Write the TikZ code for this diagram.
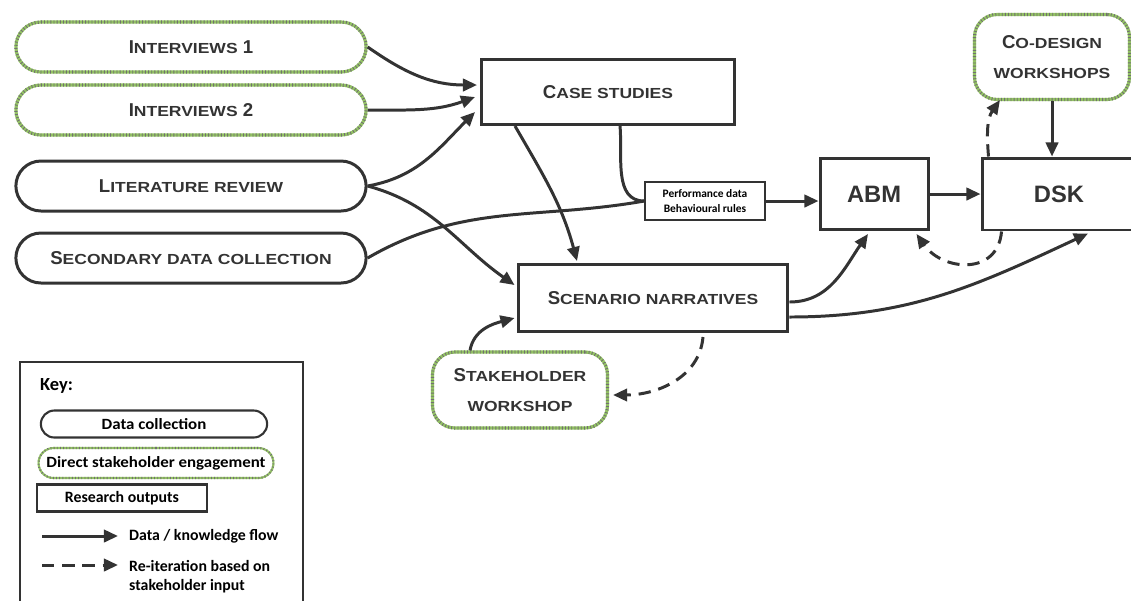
\documentclass[tikz,border=0pt]{standalone}
\usepackage{fontspec}
\setmainfont{Liberation Sans}
\newfontfamily\smcfont[FakeStretch=1.2]{Liberation Sans}
\newfontfamily\keyfont{Carlito}
\newfontfamily\keywidefont[FakeStretch=1.08]{Carlito}
\usetikzlibrary{arrows.meta,shapes.misc,calc}

\definecolor{inkgray}{HTML}{333333}
\definecolor{engagegreen}{HTML}{93C363}

% small capitals by hand
\newcommand\smc[1]{{\smcfont\bfseries\fontsize{8.3}{10}\selectfont #1}}

\tikzset{datacol/.style = {rounded rectangle, draw = inkgray, line width = 1.7pt,
                           minimum width = 7.24cm, minimum height = 1cm,
                           text = inkgray, font = \bfseries\fontsize{10.6}{13}\selectfont},
         engage/.style  = {draw = engagegreen, line width = 1.8pt,
                           postaction = {draw = inkgray!70, dash pattern = on 0.5pt off 1.3pt}},
         resbox/.style  = {rectangle, draw = inkgray, line width = 1.7pt, align = center,
                           text = inkgray, font = \bfseries\fontsize{10.6}{13}\selectfont},
         workshop/.style = {rectangle, rounded corners = 0.45cm, engage, align = center,
                           text = inkgray, font = \bfseries\fontsize{10.6}{17}\selectfont},
         flow/.style    = {draw = inkgray, line width = 1.7pt, -{Triangle[length = 8pt, width = 7pt]}},
         reiter/.style  = {flow, dash pattern = on 7pt off 4.5pt},
         keytext/.style = {text = black, font = \keyfont\bfseries\fontsize{9}{11}\selectfont},
         keyoval/.style = {text = black, font = \keywidefont\bfseries\fontsize{8.9}{11}\selectfont}
        }

\begin{document}
\begin{tikzpicture}[x = 0.02cm, y = -0.02cm]
  \useasboundingbox (0,0) rectangle (1131,600);
  \clip (0,0) rectangle (1131,600);

  % data collection and engagement
  \node[datacol, engage] (int1) at (191,47)  {I\smc{NTERVIEWS} 1};
  \node[datacol, engage] (int2) at (191,110) {I\smc{NTERVIEWS} 2};
  \node[datacol] (litrev)  at (191,186) {L\smc{ITERATURE REVIEW}};
  \node[datacol] (secdata) at (191,258) {S\smc{ECONDARY DATA COLLECTION}};

  % research outputs
  \node[resbox, minimum width = 5.06cm, minimum height = 1.3cm]  (case) at (608,92)  {C\smc{ASE STUDIES}};
  \node[resbox, minimum width = 5.4cm, minimum height = 1.34cm]  (scen) at (653,298) {S\smc{CENARIO NARRATIVES}};
  \node[resbox, minimum width = 2.16cm, minimum height = 1.42cm, font = \bfseries\fontsize{13.5}{16}\selectfont] (abm) at (874,194) {ABM};
  \node[resbox, minimum width = 3.08cm, minimum height = 1.44cm, font = \bfseries\fontsize{13.5}{16}\selectfont] (dsk) at (1059,194) {DSK};
  \node[resbox, line width = 0.8pt, minimum width = 2.4cm, minimum height = 0.76cm, inner sep = 1pt,
        text = black, font = \keyfont\bfseries\fontsize{6.5}{8}\selectfont] (perf) at (705,201)
        {Performance data\\Behavioural rules};

  % workshops
  \node[workshop, minimum width = 3.1cm, minimum height = 1.7cm] (codes) at (1052,57)
        {C\smc{O-DESIGN}\\\smc{WORKSHOPS}};
  \node[workshop, minimum width = 3.5cm, minimum height = 1.52cm] (stake) at (520,390)
        {S\smc{TAKEHOLDER}\\\smc{WORKSHOP}};

  % connectors
  \draw[flow] (int1.east) to[out = -35, in = 180] ($(case.west)+(-3,-7)$);
  \draw[flow] (int2.east) to[out = 0, in = 200] ($(case.west)+(-5,5)$);
  \draw[flow] (litrev.east) to[out = 10, in = 225] ($(case.west)+(-5,20)$);
  \draw[flow] (litrev.east) to[out = -15, in = 145] ($(scen.west)+(-2,-13)$);
  \draw[draw = inkgray, line width = 1.7pt] (secdata.east) to[out = 30, in = 190] (perf.west);
  \draw[flow] ($(case.south)+(-93,0)$) to[out = -60, in = 105] ($(scen.north)+(-76,-2)$);
  \draw[draw = inkgray, line width = 1.7pt] ($(case.south)+(12,0)$) to[out = -85, in = 180] (perf.west);
  \draw[flow] (perf.east) -- (perf.east -| abm.west);
  \draw[flow] (abm.east) -- (abm.east -| dsk.west);
  \draw[flow] (codes.south) -- (codes.south |- dsk.north);
  \draw[reiter] ($(dsk.north west)+(8,0)$) to[out = 95, in = 235] ($(codes.south west)+(27,-1)$);
  \draw[reiter] ($(dsk.south west)+(21,0)$) to[out = -95, in = -55, looseness = 1.35] ($(abm.south east)+(-13,3)$);
  \draw[flow] ($(scen.east)+(0,4)$) to[out = 0, in = 235] ($(abm.south)+(-6,3)$);
  \draw[flow] ($(scen.east)+(0,19)$) to[out = 0, in = 205] ($(dsk.south)+(29,2)$);
  \draw[flow] (stake.north) ++(-50,0) coordinate (stk) (stk) to[out = 80, in = 195] ($(scen.west)+(-2,20)$);
  \draw[reiter] ($(scen.south)+(50,4)$) to[out = -95, in = 0] ($(stake.east)+(4,5)$);

  % key
  \draw[inkgray, line width = 0.8pt] (20,362) rectangle (303,620);
  \node[keytext, anchor = west, font = \keyfont\bfseries\fontsize{10.5}{12}\selectfont] (keyhead) at (34,386) {Key:};
  \node[datacol, line width = 1.2pt, minimum width = 4.76cm, minimum height = 0.54cm, keyoval] (keydata) at (154,424) {Data collection};
  \node[datacol, engage, line width = 1.2pt, minimum width = 4.84cm, minimum height = 0.6cm, inner xsep = 2pt, keyoval] (keyeng) at (156,463) {Direct stakeholder engagement};
  \node[resbox, line width = 1.2pt, minimum width = 3.4cm, minimum height = 0.54cm, keytext] (keyres) at (122,498) {Research outputs};
  \coordinate (kf1) at (42,536);
  \coordinate (kf2) at (118,536);
  \coordinate (kr1) at (42,565);
  \coordinate (kr2) at (118,565);
  \draw[flow] (kf1) -- (kf2);
  \draw[reiter] (kr1) -- (kr2);
  \node[keytext, anchor = west] (keyflow) at (123,536) {Data / knowledge flow};
  \node[keytext, anchor = north west, align = left] (keyre) at (123,554) {Re-iteration based on\\stakeholder input};
\end{tikzpicture}
\end{document}
